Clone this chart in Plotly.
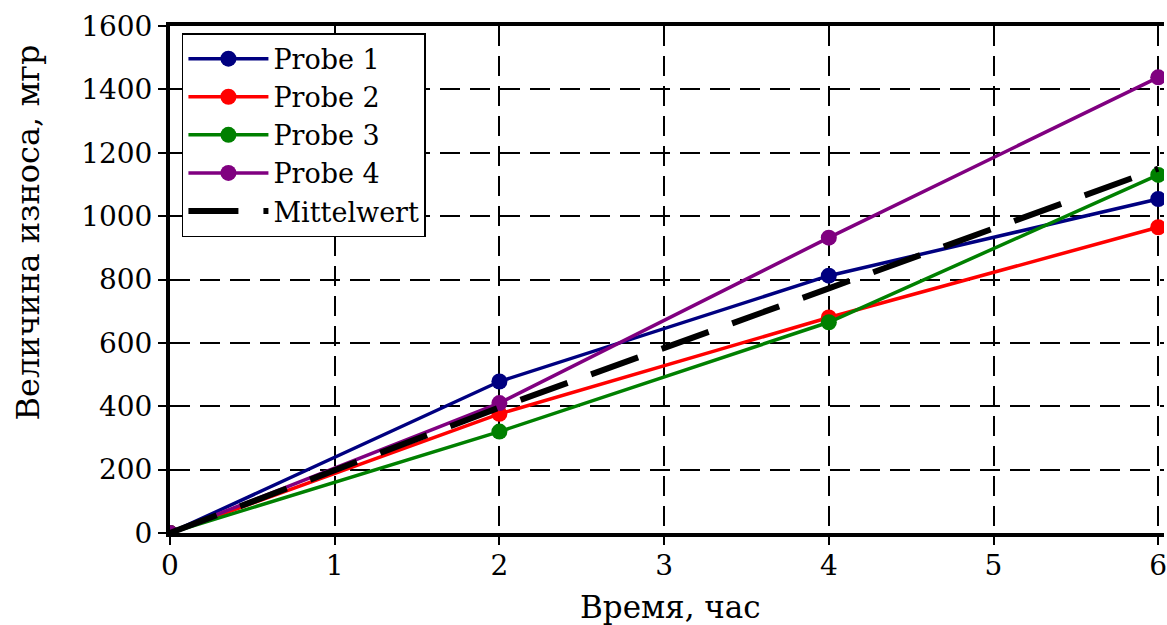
import plotly.graph_objects as go

x_hours = [0, 2, 4, 6]
probe1 = [0, 478, 812, 1054]
probe2 = [0, 376, 680, 965]
probe3 = [0, 320, 665, 1130]
probe4 = [0, 410, 932, 1438]
mittelwert = [0, 396, 772, 1150]

series = [
    ("Probe 1", probe1, "#000080"),
    ("Probe 2", probe2, "#ff0000"),
    ("Probe 3", probe3, "#008000"),
    ("Probe 4", probe4, "#800080"),
]

FONT = "DejaVu Serif"

fig = go.Figure()
for name, vals, col in series:
    fig.add_trace(go.Scatter(
        x=x_hours, y=vals, name=name, mode="lines+markers",
        line=dict(color=col, width=3.5),
        marker=dict(color=col, size=16),
    ))
fig.add_trace(go.Scatter(
    x=x_hours, y=mittelwert, name="Mittelwert", mode="lines",
    line=dict(color="black", width=6, dash="50px,25px"),
))

axis_common = dict(
    showline=True, linecolor="black", linewidth=4,
    showgrid=True, gridcolor="black", gridwidth=2, griddash="20px,10px",
    ticks="outside", ticklen=8, tickwidth=2, tickcolor="black",
    zeroline=False,
    tickfont=dict(family=FONT, size=28, color="black"),
)

fig.update_layout(
    width=1167, height=625,
    margin=dict(l=170, r=0, t=26, b=92),
    paper_bgcolor="white", plot_bgcolor="white",
    font=dict(family=FONT),
    showlegend=True,
    legend=dict(
        x=0.012, y=0.986, xanchor="left", yanchor="top",
        bordercolor="black", borderwidth=1.5, bgcolor="white",
        font=dict(family=FONT, size=27, color="black"),
        itemwidth=80, tracegroupgap=0,
    ),
    xaxis=dict(range=[0, 6.035], tickvals=[0, 1, 2, 3, 4, 5, 6],
               ticklabelstandoff=-4, mirror=True, ticklabeloverflow="allow",
               **axis_common),
    yaxis=dict(range=[0, 1600], tickvals=list(range(0, 1601, 200)),
               mirror=False,
               **axis_common),
    annotations=[
        dict(text="Время, час", xref="paper", yref="paper",
             x=(672 - 170) / 997, y=-(607 - 533) / 507,
             xanchor="center", yanchor="middle", showarrow=False,
             font=dict(family=FONT, size=31, color="black")),
        dict(text="Величина износа, мгр", xref="paper", yref="paper",
             x=-(170 - 28) / 997, y=(533 - 232) / 507, textangle=-90,
             xanchor="center", yanchor="middle", showarrow=False,
             font=dict(family=FONT, size=32, color="black")),
    ],
)

fig.write_html("out.html")
